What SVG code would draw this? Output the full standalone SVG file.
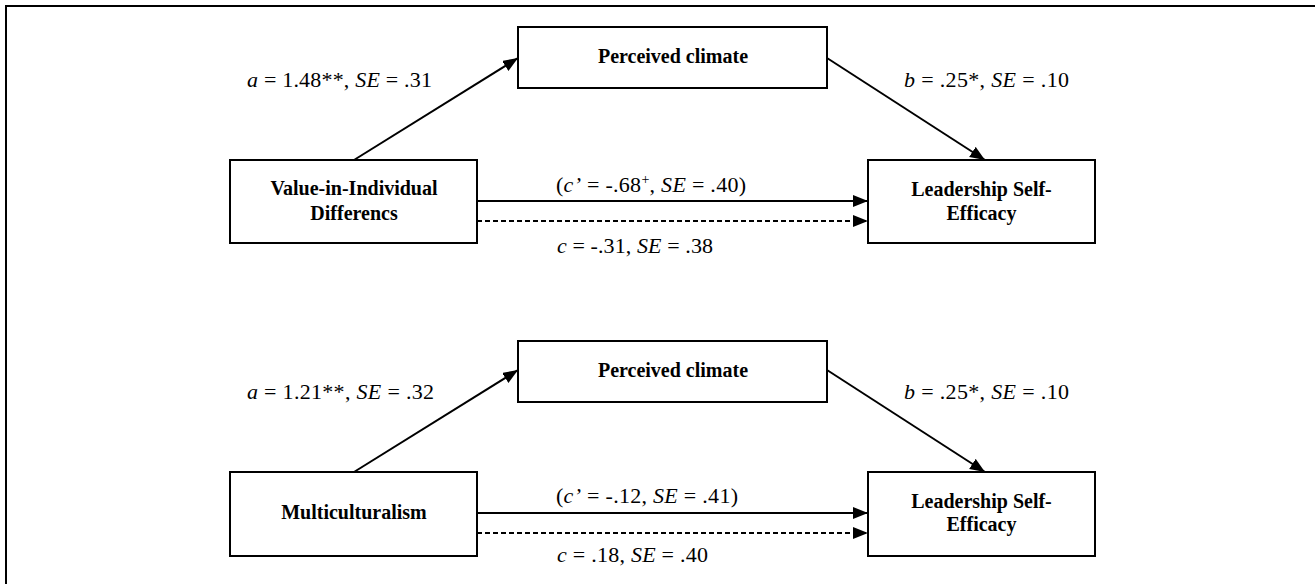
<svg xmlns="http://www.w3.org/2000/svg" width="1315" height="584" viewBox="0 0 1315 584">
<style>
.box{fill:#fff;stroke:#000;stroke-width:2}
.nt{font-family:"Liberation Serif","Times New Roman",serif;font-weight:bold;font-size:20px;fill:#000;text-anchor:middle}
.lb{font-family:"Liberation Serif","Times New Roman",serif;font-size:22px;fill:#000}
.i{font-style:italic}
.ln{stroke:#000;stroke-width:2;fill:none;marker-end:url(#ah)}
.dash{stroke-dasharray:5 3}
</style>
<defs>
<marker id="ah" markerUnits="userSpaceOnUse" markerWidth="16" markerHeight="13" refX="15" refY="6" orient="auto">
<path d="M0,0 L15,6 L0,12 Z" fill="#000" stroke="none"/>
</marker>
</defs>
<rect x="0" y="0" width="1315" height="584" fill="#fff"/>
<rect x="6" y="6" width="1330" height="620" fill="none" stroke="#000" stroke-width="2"/>

<g id="connectors">
<line class="ln" x1="354" y1="160" x2="518" y2="58"/>
<line class="ln" x1="827" y1="58" x2="985" y2="160"/>
<line class="ln" x1="477" y1="201" x2="868" y2="201"/>
<line class="ln dash" x1="477" y1="221" x2="868" y2="221"/>
<line class="ln" x1="354" y1="472" x2="518" y2="370"/>
<line class="ln" x1="827" y1="370" x2="985" y2="472"/>
<line class="ln" x1="477" y1="513" x2="868" y2="513"/>
<line class="ln dash" x1="477" y1="533" x2="868" y2="533"/>
</g>

<g id="labels">
<text class="lb" x="247" y="87" textLength="185" lengthAdjust="spacing"><tspan class="i">a</tspan> = 1.48**, <tspan class="i">SE</tspan> = .31</text>
<text class="lb" x="904" y="87" textLength="165" lengthAdjust="spacing"><tspan class="i">b</tspan> = .25*, <tspan class="i">SE</tspan> = .10</text>
<text class="lb" x="556" y="192" textLength="190" lengthAdjust="spacing">(<tspan class="i">c’</tspan> = -.68<tspan dy="-8" font-size="14">+</tspan><tspan dy="8">, </tspan><tspan class="i">SE</tspan> = .40)</text>
<text class="lb" x="557" y="253" textLength="156" lengthAdjust="spacing"><tspan class="i">c</tspan> = -.31, <tspan class="i">SE</tspan> = .38</text>
<text class="lb" x="247" y="399" textLength="187" lengthAdjust="spacing"><tspan class="i">a</tspan> = 1.21**, <tspan class="i">SE</tspan> = .32</text>
<text class="lb" x="904" y="399" textLength="165" lengthAdjust="spacing"><tspan class="i">b</tspan> = .25*, <tspan class="i">SE</tspan> = .10</text>
<text class="lb" x="556" y="503" textLength="182" lengthAdjust="spacing">(<tspan class="i">c’</tspan> = -.12, <tspan class="i">SE</tspan> = .41)</text>
<text class="lb" x="557" y="562" textLength="151" lengthAdjust="spacing"><tspan class="i">c</tspan> = .18, <tspan class="i">SE</tspan> = .40</text>
</g>

<g id="node-vid">
<rect class="box" x="230" y="160" width="247" height="83"/>
<text class="nt" x="354" y="195">Value-in-Individual</text>
<text class="nt" x="354" y="220">Differencs</text>
</g>
<g id="node-pc1">
<rect class="box" x="518" y="27" width="309" height="61"/>
<text class="nt" x="673" y="63">Perceived climate</text>
</g>
<g id="node-lse1">
<rect class="box" x="868" y="160" width="227" height="83"/>
<text class="nt" x="981.5" y="196">Leadership Self-</text>
<text class="nt" x="981.5" y="220">Efficacy</text>
</g>
<g id="node-multi">
<rect class="box" x="230" y="472" width="247" height="84"/>
<text class="nt" x="354" y="519">Multiculturalism</text>
</g>
<g id="node-pc2">
<rect class="box" x="518" y="341" width="309" height="61"/>
<text class="nt" x="673" y="377">Perceived climate</text>
</g>
<g id="node-lse2">
<rect class="box" x="868" y="472" width="227" height="84"/>
<text class="nt" x="981.5" y="508">Leadership Self-</text>
<text class="nt" x="981.5" y="531">Efficacy</text>
</g>
</svg>
